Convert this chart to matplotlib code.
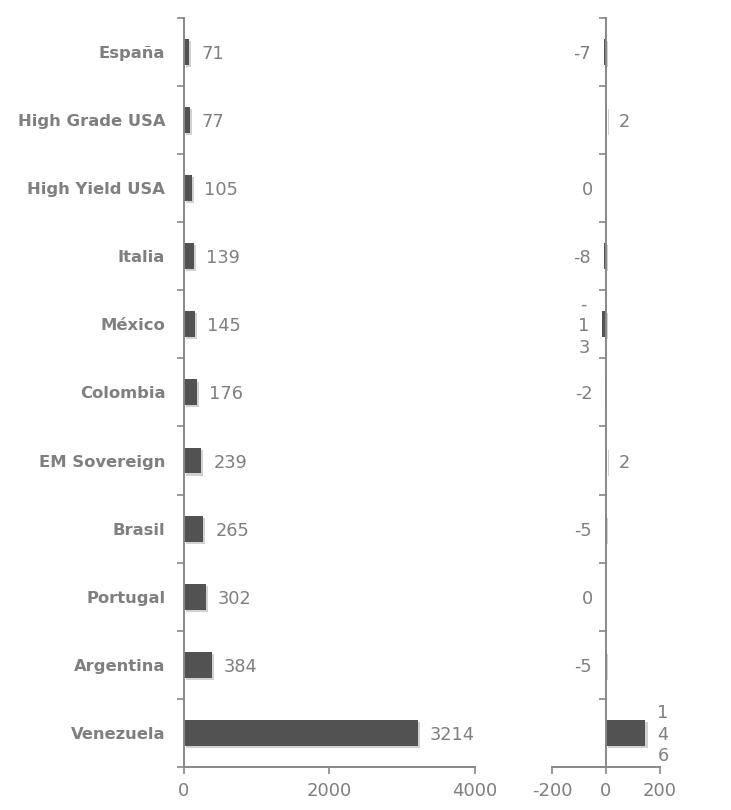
import matplotlib
matplotlib.use("Agg")
import matplotlib.pyplot as plt
import matplotlib.patheffects as pe

# data
categorias = ["España", "High Grade USA", "High Yield USA", "Italia", "México",
              "Colombia", "EM Sovereign", "Brasil", "Portugal", "Argentina", "Venezuela"]
valores = [71, 77, 105, 139, 145, 176, 239, 265, 302, 384, 3214]
cambios = [-7, 2, 0, -8, -13, -2, 2, -5, 0, -5, 146]

gris = "#7f7f7f"
barra = "#525252"
plt.rcParams['font.family'] = ['DejaVu Sans']
plt.rcParams['axes.unicode_minus'] = False

fig = plt.figure(figsize=(7.31, 8.1), dpi=100)
ax1 = fig.add_axes([0.2517, 0.0531, 0.3981, 0.9249])
ax2 = fig.add_axes([0.7551, 0.0531, 0.1478, 0.9249])

n = len(categorias)
pos = list(range(n))[::-1]  # España on top
sombra = [pe.SimplePatchShadow(offset=(1.5, -1.5), alpha=0.2), pe.Normal()]


def estilo(ax):
    for s in ["top", "right"]:
        ax.spines[s].set_visible(False)
    for s in ["left", "bottom"]:
        ax.spines[s].set_color("#888888")
        ax.spines[s].set_linewidth(1.4)
    ax.set_ylim(-0.5, n - 0.5)
    # ticks between categories, labels at the centres
    ax.set_yticks([i - 0.5 for i in range(n + 1)])
    ax.set_yticklabels([])
    ax.set_yticks(pos, minor=True)
    ax.tick_params(axis="y", which="major", length=5, width=1.2, color="#888888", direction="out")
    ax.tick_params(axis="y", which="minor", length=0)
    ax.tick_params(axis="x", length=5, width=1.2, color="#888888", labelcolor=gris,
                   labelsize=13, pad=6)


# left panel
bars = ax1.barh(pos, valores, height=0.38, color=barra)
for b in bars:
    b.set_path_effects(sombra)
estilo(ax1)
ax1.set_xlim(0, 4000)
ax1.set_xticks([0, 2000, 4000])
ax1.set_yticklabels(categorias, minor=True)
ax1.tick_params(axis="y", which="minor", labelcolor=gris, labelsize=11.8, pad=13.5)
for t in ax1.get_yticklabels(minor=True):
    t.set_fontweight("bold")
for p, v in zip(pos, valores):
    ax1.annotate(str(v), (v, p), xytext=(12, -2), textcoords="offset pixels",
                 ha="left", va="center", color=gris, fontsize=12.8)

# right panel
bars2 = ax2.barh(pos, cambios, height=0.38, color=barra)
for b in bars2:
    b.set_path_effects(sombra)
estilo(ax2)
ax2.set_xlim(-200, 200)
ax2.set_xticks([-200, 0, 200])
ax2.spines["left"].set_position(("data", 0))
for p, v in zip(pos, cambios):
    txt = str(v)
    if abs(v) >= 10:
        txt = "\n".join(txt)
    if v > 0:
        ax2.annotate(txt, (v, p), xytext=(12, -2), textcoords="offset pixels",
                     ha="left", va="center", color=gris, fontsize=12.8,
                     multialignment="center", linespacing=1.25)
    else:
        ax2.annotate(txt, (v, p), xytext=(-13, -2), textcoords="offset pixels",
                     ha="right", va="center", color=gris, fontsize=12.8,
                     multialignment="center", linespacing=1.25)

fig.savefig("out.png", dpi=100)
